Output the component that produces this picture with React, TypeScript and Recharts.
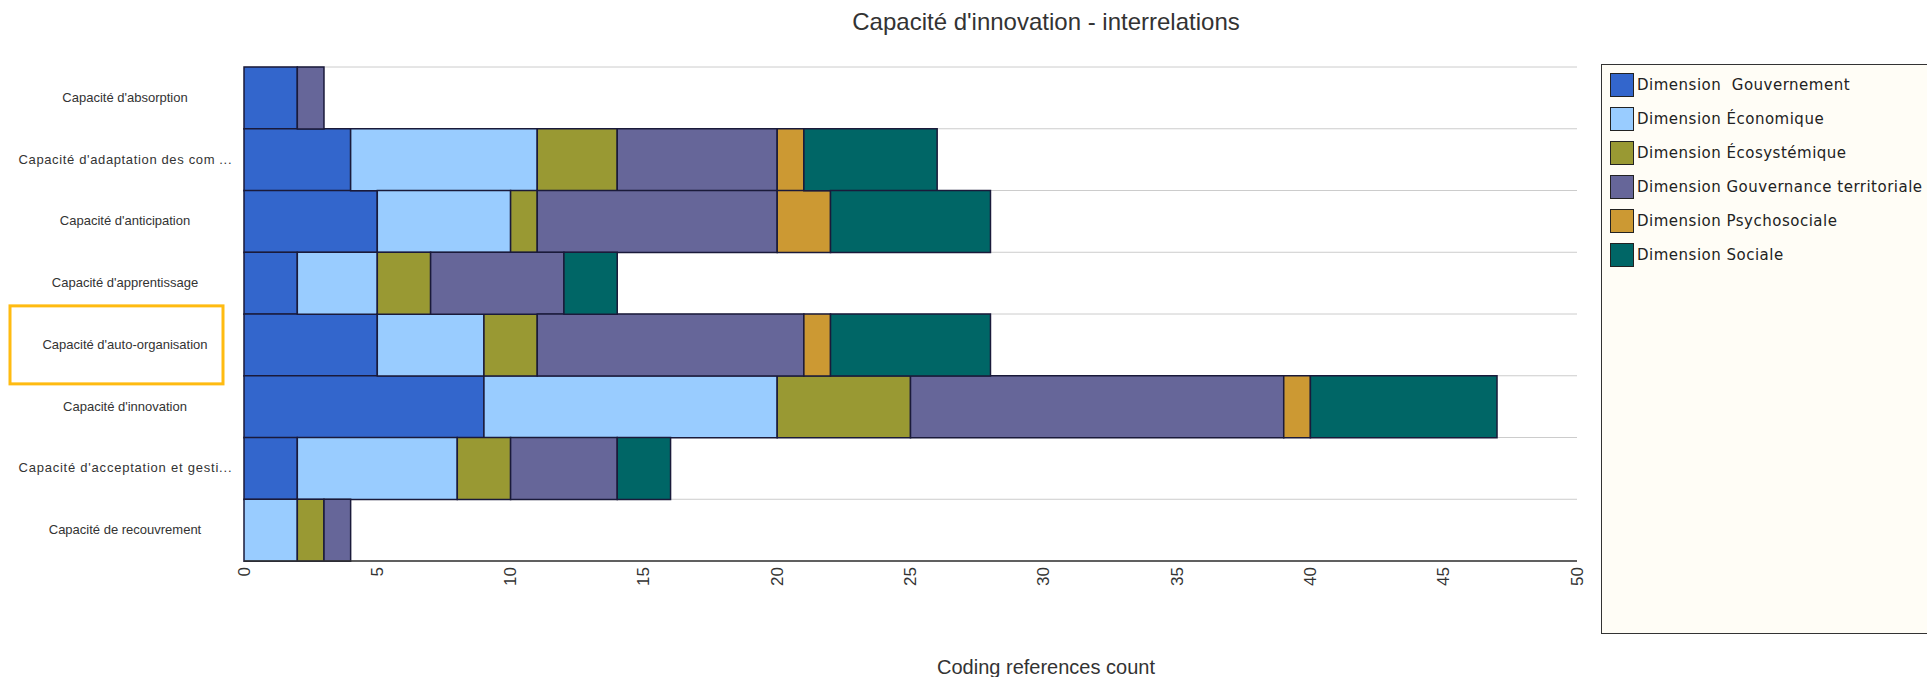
import { BarChart, Bar, XAxis, YAxis, CartesianGrid } from "recharts"

const categories = [
  "Capacité d'absorption",
  "Capacité d'adaptation des com ...",
  "Capacité d'anticipation",
  "Capacité d'apprentissage",
  "Capacité d'auto-organisation",
  "Capacité d'innovation",
  "Capacité d'acceptation et gesti...",
  "Capacité de recouvrement",
]

const gouvernement = [2, 4, 5, 2, 5, 9, 2, 0]
const economique = [0, 7, 5, 3, 4, 11, 6, 2]
const ecosystemique = [0, 3, 1, 2, 2, 5, 2, 1]
const gouvernance = [1, 6, 9, 5, 10, 14, 4, 1]
const psychosociale = [0, 1, 2, 0, 1, 1, 0, 0]
const sociale = [0, 5, 6, 2, 6, 7, 2, 0]

const xTicks = [0, 5, 10, 15, 20, 25, 30, 35, 40, 45, 50]

const highlighted = "Capacité d'auto-organisation"

const series = [
  { key: "gouv", name: "Dimension  Gouvernement", values: gouvernement, color: "#3366cc" },
  { key: "eco", name: "Dimension Économique", values: economique, color: "#99ccff" },
  { key: "ecosys", name: "Dimension Écosystémique", values: ecosystemique, color: "#999933" },
  { key: "gterr", name: "Dimension Gouvernance territoriale", values: gouvernance, color: "#666699" },
  { key: "psy", name: "Dimension Psychosociale", values: psychosociale, color: "#cc9933" },
  { key: "soc", name: "Dimension Sociale", values: sociale, color: "#006666" },
]

const data = categories.map((name, i) => {
  const row: any = { name }
  series.forEach((s) => {
    row[s.key] = s.values[i]
  })
  return row
})

const CategoryTick = ({ y, payload }: any) => {
  const label = payload.value as string
  const truncated = label.endsWith("...")
  return (
    <g>
      {label === highlighted && (
        <rect x={10} y={y - 39} width={213} height={78} fill="none" stroke="#ffbb11" strokeWidth={3} />
      )}
      <text
        x={125}
        y={y}
        dy={4}
        textAnchor="middle"
        fontSize={13}
        fontFamily="Liberation Sans, Arial, sans-serif"
        fill="#333"
        textLength={truncated ? 213 : undefined}
        lengthAdjust="spacing"
      >
        {label}
      </text>
    </g>
  )
}

const ValueTick = ({ x, y, payload }: any) => (
  <text
    x={x}
    y={y}
    transform={`rotate(-90 ${x} ${y})`}
    textAnchor="end"
    dominantBaseline="central"
    fontSize={17}
    fontFamily="Liberation Sans, Arial, sans-serif"
    fill="#333"
  >
    {payload.value}
  </text>
)

// grid lines sit on the row boundaries, not on the category centres
const rowBoundaries = ({ offset }: any) =>
  categories.map((_, i) => offset.top + (offset.height * i) / categories.length).concat(offset.top + offset.height)

export default function App() {
  return (
    <div style={{ position: "absolute", left: 0, top: 0, width: 1927, height: 677, background: "#fff", overflow: "hidden" }}>
      <div
        style={{
          position: "absolute",
          left: 1046,
          top: 10,
          transform: "translateX(-50%)",
          whiteSpace: "nowrap",
          fontFamily: "Liberation Sans, Arial, sans-serif",
          fontSize: 24,
          lineHeight: "24px",
          color: "#333",
        }}
      >
        Capacité d'innovation - interrelations
      </div>

      <div style={{ position: "absolute", left: 0, top: 0 }}>
        <BarChart
          width={1927}
          height={677}
          data={data}
          layout="vertical"
          barCategoryGap={0}
          barGap={0}
          margin={{ top: 67, right: 350, bottom: 0, left: 0 }}
        >
          <CartesianGrid vertical={false} stroke="#cccccc" horizontalCoordinatesGenerator={rowBoundaries} />
          <XAxis
            type="number"
            domain={[0, 50]}
            ticks={xTicks}
            height={116}
            tickLine={false}
            tickSize={6}
            tickMargin={0}
            axisLine={{ stroke: "#333", strokeWidth: 1.5 }}
            tick={<ValueTick />}
            interval={0}
          />
          <YAxis
            type="category"
            dataKey="name"
            width={244}
            tickLine={false}
            axisLine={false}
            tick={<CategoryTick />}
            interval={0}
          />
          {series.map((s) => (
            <Bar
              key={s.key}
              dataKey={s.key}
              name={s.name}
              stackId="a"
              fill={s.color}
              stroke="#1a1a3a"
              strokeWidth={1.5}
              isAnimationActive={false}
            />
          ))}
        </BarChart>
      </div>

      <div
        style={{
          position: "absolute",
          left: 1046,
          top: 657,
          transform: "translateX(-50%)",
          whiteSpace: "nowrap",
          fontFamily: "Liberation Sans, Arial, sans-serif",
          fontSize: 20,
          lineHeight: "20px",
          color: "#333",
        }}
      >
        Coding references count
      </div>

      {/* legend box, cut by the right edge like in the source */}
      <div
        style={{
          position: "absolute",
          left: 1601,
          top: 64,
          width: 340,
          height: 570,
          border: "1.5px solid #333",
          background: "#fffdf6",
          boxSizing: "border-box",
        }}
      >
        {series.map((s, i) => (
          <div
            key={s.key}
            style={{ position: "absolute", left: 8, top: 8 + i * 34, height: 24, display: "flex", alignItems: "center" }}
          >
            <div
              style={{
                width: 24,
                height: 24,
                background: s.color,
                border: "1.5px solid #222",
                boxSizing: "border-box",
              }}
            />
            <span
              style={{
                marginLeft: 3,
                whiteSpace: "pre",
                fontFamily: "DejaVu Sans, Verdana, sans-serif",
                fontSize: 15,
                letterSpacing: 0.5,
                color: "#222",
              }}
            >
              {s.name}
            </span>
          </div>
        ))}
      </div>
    </div>
  )
}
